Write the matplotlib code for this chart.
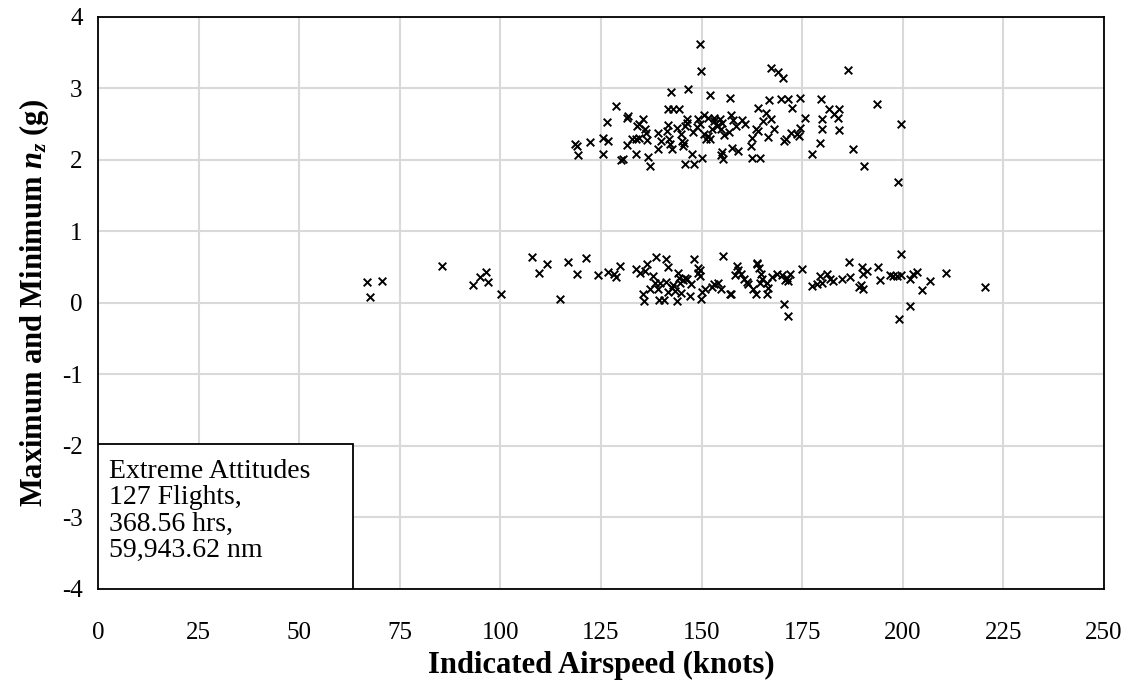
import numpy as np
import matplotlib.pyplot as plt
from matplotlib.patches import Rectangle

# maximum n_z per flight (upper cluster)
max_speed = [128.7, 126.6, 125.6, 126.8, 122.3, 118.5, 119.1, 119.4, 125.6, 130.0,
             149.6, 149.8, 142.5, 146.5, 152.1, 157.1, 163.9, 131.4, 131.6, 135.5,
             134.4, 133.9, 135.9, 136.1, 132.6, 133.6, 134.4, 131.4, 130.4, 133.6,
             136.8, 137.2, 139.2, 139.2, 141.6, 143.0, 144.4, 141.6, 141.9, 142.2,
             142.7, 145.1, 145.7, 145.4, 146.3, 146.3, 146.0, 147.9, 147.5, 145.9,
             148.2, 150.2, 149.2, 149.6, 150.7, 151.7, 152.7, 153.2, 153.8, 154.6,
             152.1, 151.5, 154.8, 155.6, 156.8, 157.3, 157.9, 157.5, 159.0, 155.1,
             154.8, 155.4, 160.8, 162.4, 162.6, 163.4, 162.6, 164.5, 167.2, 169.1,
             170.3, 186.5, 166.8, 169.7, 171.5, 174.5, 179.6, 193.5, 172.4, 181.7,
             184.2, 182.9, 183.9, 166.0, 165.3, 167.2, 175.7, 179.8, 179.8, 184.2,
             174.5, 172.1, 173.6, 174.2, 166.6, 170.5, 179.4, 177.4, 187.7, 190.4,
             199.5, 198.8, 151.2, 141.5, 143.8, 150.5, 155.0, 160.0, 168.0, 145.0,
             139.8, 158.5, 171.0, 136.5, 148.8, 153.0, 164.0]
max_nz = [2.75, 2.53, 2.31, 2.27, 2.25, 2.22, 2.20, 2.07, 2.08, 2.00,
          3.62, 3.24, 2.95, 2.99, 2.91, 2.87, 2.73, 2.59, 2.62, 2.58,
          2.50, 2.47, 2.43, 2.38, 2.29, 2.30, 2.31, 2.21, 2.02, 2.08,
          2.04, 1.92, 2.38, 2.15, 2.72, 2.71, 2.72, 2.49, 2.29, 2.22,
          2.16, 2.27, 2.24, 2.20, 2.58, 2.52, 2.48, 2.39, 2.09, 1.94,
          1.95, 2.03, 2.57, 2.51, 2.63, 2.59, 2.43, 2.59, 2.47, 2.58,
          2.30, 2.34, 2.43, 2.35, 2.39, 2.63, 2.56, 2.17, 2.13, 2.11,
          2.07, 2.01, 2.50, 2.20, 2.31, 2.43, 2.03, 2.03, 3.29, 3.23,
          3.14, 3.26, 2.84, 2.85, 2.86, 2.87, 2.85, 2.78, 2.73, 2.71,
          2.71, 2.64, 2.59, 2.66, 2.55, 2.57, 2.59, 2.57, 2.44, 2.42,
          2.45, 2.38, 2.37, 2.34, 2.32, 2.26, 2.24, 2.08, 2.16, 1.91,
          2.51, 1.69, 2.29, 2.40, 2.45, 2.36, 2.52, 2.56, 2.44, 2.36,
          2.26, 2.48, 2.30, 2.28, 2.46, 2.55, 2.40]

# minimum n_z per flight (lower cluster)
min_speed = [66.8, 67.6, 70.5, 85.4, 93.1, 94.9, 96.4, 97.0, 100.1, 107.9,
             109.6, 111.5, 114.8, 116.9, 119.1, 121.3, 124.3, 126.8, 128.2, 128.7,
             129.7, 133.7, 134.7, 136.5, 138.7, 141.2, 141.6, 138.0, 138.4, 137.2,
             135.4, 135.7, 139.2, 139.6, 141.2, 141.7, 139.5, 140.6, 142.6, 143.4,
             144.0, 144.2, 144.5, 145.3, 144.6, 145.0, 146.3, 148.2, 149.0, 149.6,
             149.2, 149.6, 147.3, 145.9, 150.0, 149.8, 150.8, 155.4, 153.1, 154.1,
             154.8, 157.0, 158.7, 159.1, 159.8, 158.3, 161.2, 161.6, 163.7, 164.2,
             164.8, 165.1, 164.5, 162.8, 163.4, 166.2, 166.6, 166.2, 167.6, 168.7,
             169.9, 170.7, 171.5, 171.9, 171.1, 170.5, 171.5, 175.0, 177.4, 178.6,
             179.4, 180.0, 181.1, 181.9, 182.7, 185.0, 187.0, 186.7, 189.8, 190.2,
             191.2, 189.2, 190.0, 189.5, 193.9, 194.3, 196.8, 197.5, 198.5, 199.5,
             199.5, 201.8, 202.5, 203.6, 204.7, 206.8, 210.7, 220.4, 201.8, 199.1,
             157.4, 163.7, 152.5, 143.0, 147.0, 136.0, 160.5]
min_nz = [0.29, 0.09, 0.31, 0.52, 0.25, 0.37, 0.43, 0.30, 0.13, 0.65,
          0.42, 0.55, 0.05, 0.57, 0.40, 0.63, 0.39, 0.43, 0.41, 0.37,
          0.52, 0.48, 0.42, 0.55, 0.65, 0.62, 0.51, 0.38, 0.28, 0.20,
          0.13, 0.03, 0.19, 0.28, 0.29, 0.15, 0.04, 0.04, 0.21, 0.17,
          0.03, 0.42, 0.35, 0.32, 0.28, 0.14, 0.33, 0.61, 0.49, 0.46,
          0.42, 0.38, 0.26, 0.35, 0.15, 0.06, 0.20, 0.66, 0.26, 0.28,
          0.19, 0.13, 0.52, 0.46, 0.41, 0.39, 0.29, 0.26, 0.55, 0.49,
          0.40, 0.33, 0.28, 0.19, 0.12, 0.28, 0.21, 0.13, 0.37, 0.40,
          0.39, 0.32, 0.31, 0.40, 0.35, -0.01, -0.18, 0.48, 0.24, 0.26,
          0.38, 0.28, 0.40, 0.33, 0.31, 0.34, 0.37, 0.57, 0.51, 0.41,
          0.45, 0.23, 0.20, 0.25, 0.51, 0.32, 0.39, 0.38, 0.38, 0.39,
          0.69, 0.34, 0.40, 0.43, 0.18, 0.31, 0.42, 0.23, -0.04, -0.22,
          0.12, 0.56, 0.22, 0.25, 0.10, 0.45, 0.34]

box_lines = ["Extreme Attitudes", "127 Flights,", "368.56 hrs,", "59,943.62 nm"]

plt.rcParams['font.family'] = ['Liberation Serif', 'DejaVu Serif']
plt.rcParams['axes.unicode_minus'] = False
plt.rcParams['mathtext.fontset'] = 'custom'
plt.rcParams['mathtext.it'] = 'Liberation Serif:italic:bold'
plt.rcParams['mathtext.rm'] = 'Liberation Serif:bold'

fig = plt.figure(figsize=(11.35, 6.88), dpi=100)
ax = fig.add_axes([0.0863, 0.1439, 0.8864, 0.8314])

ax.scatter(max_speed, max_nz, marker='x', s=30, c='black', linewidths=1.4, zorder=3)
ax.scatter(min_speed, min_nz, marker='x', s=30, c='black', linewidths=1.4, zorder=3)

ax.set_xlim(0, 250)
ax.set_ylim(-4, 4)
ax.set_xticks(np.arange(0, 251, 25))
ax.set_yticks(np.arange(-4, 5, 1))
ax.grid(True, color='#d9d9d9', linewidth=1.5)
ax.set_axisbelow(True)
ax.tick_params(length=0, labelsize=18)
ax.tick_params(axis='x', pad=24)
ax.tick_params(axis='y', pad=11)
for sp in ax.spines.values():
    sp.set_color('black')
    sp.set_linewidth(1.3)

ax.set_xlabel("Indicated Airspeed (knots)", fontsize=22, fontweight='bold', labelpad=5)
ax.set_ylabel(r"Maximum and Minimum $n_z$ (g)", fontsize=22, fontweight='bold', labelpad=8)

# annotation box in lower left
ax.add_patch(Rectangle((0, 0), 0.254, 0.253, transform=ax.transAxes,
                       facecolor='white', edgecolor='black', linewidth=1.3, zorder=4))
ax.text(0.011, 0.228, "\n".join(box_lines), transform=ax.transAxes, fontsize=20,
        va='top', ha='left', linespacing=1.08, zorder=5)

fig.savefig("out.png", dpi=100)
